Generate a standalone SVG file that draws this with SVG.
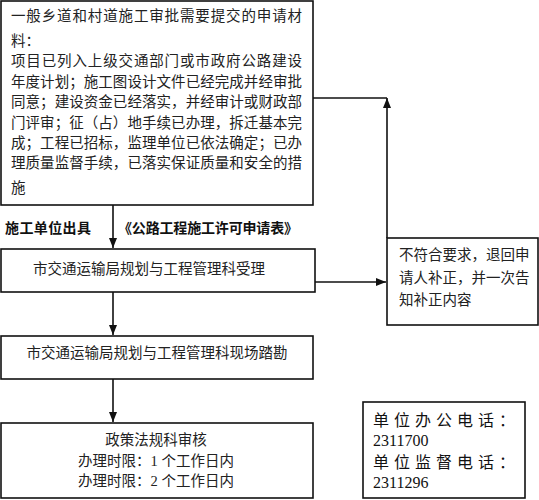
<svg xmlns="http://www.w3.org/2000/svg" width="539" height="500" viewBox="0 0 539 500">
<style>
.box{fill:#fff;stroke:#111;stroke-width:1.6}
.t{font-family:"Liberation Serif","Noto Sans CJK SC",serif;font-size:14.5px;fill:#222;dominant-baseline:central}
.m{text-anchor:middle}
.b{font-family:"Noto Sans CJK SC","Liberation Sans",sans-serif;font-size:14px;font-weight:bold;fill:#111;dominant-baseline:central}
.c{fill:none;stroke:#111;stroke-width:1.6}
.p{font-family:"Liberation Serif","Noto Sans CJK SC",serif;font-size:16px;fill:#111;dominant-baseline:central}
</style>
<defs>
<marker id="ah" markerWidth="10" markerHeight="8" refX="10" refY="4" orient="auto" markerUnits="userSpaceOnUse">
<path d="M0,0 L10,4 L0,8 Z" fill="#111"/>
</marker>
</defs>
<rect width="539" height="500" fill="#fff"/>
<g id="connectors">
<path class="c" d="M113,205 V248" marker-end="url(#ah)"/>
<path class="c" d="M312,282 H386" marker-end="url(#ah)"/>
<path class="c" d="M313,98 H387"/>
<path class="c" d="M387,238 V98" marker-end="url(#ah)"/>
<path class="c" d="M113,292 V335" marker-end="url(#ah)"/>
<path class="c" d="M113,379 V422" marker-end="url(#ah)"/>
</g>
<g id="n-materials">
<rect class="box" x="1" y="1" width="312" height="204"/>
<text class="t" x="11" y="16" textLength="291" lengthAdjust="spacing">一般乡道和村道施工审批需要提交的申请材</text>
<text class="t" x="11" y="41">料：</text>
<text class="t" x="11" y="61" textLength="291" lengthAdjust="spacing">项目已列入上级交通部门或市政府公路建设</text>
<text class="t" x="11" y="82" textLength="291" lengthAdjust="spacing">年度计划；施工图设计文件已经完成并经审批</text>
<text class="t" x="11" y="102" textLength="291" lengthAdjust="spacing">同意；建设资金已经落实，并经审计或财政部</text>
<text class="t" x="11" y="123" textLength="291" lengthAdjust="spacing">门评审；征（占）地手续已办理，拆迁基本完</text>
<text class="t" x="11" y="143" textLength="291" lengthAdjust="spacing">成；工程已招标，监理单位已依法确定；已办</text>
<text class="t" x="11" y="163" textLength="291" lengthAdjust="spacing">理质量监督手续，已落实保证质量和安全的措</text>
<text class="t" x="11" y="188">施</text>
</g>
<g id="label-issuer">
<text class="b" x="5" y="227" textLength="86" lengthAdjust="spacing">施工单位出具</text>
<text class="b" x="118" y="227" textLength="180" lengthAdjust="spacing">《公路工程施工许可申请表》</text>
</g>
<g id="n-accept">
<rect class="box" x="1" y="249" width="314" height="43"/>
<text class="t m" x="149" y="269">市交通运输局规划与工程管理科受理</text>
</g>
<g id="n-reject">
<rect class="box" x="387" y="238" width="151" height="87"/>
<text class="t" x="399" y="255" font-size="14">不符合要求，退回申</text>
<text class="t" x="399" y="278" font-size="14">请人补正，并一次告</text>
<text class="t" x="399" y="300" font-size="14">知补正内容</text>
</g>
<g id="n-survey">
<rect class="box" x="1" y="336" width="312" height="43"/>
<text class="t m" x="157" y="353">市交通运输局规划与工程管理科现场踏勘</text>
</g>
<g id="n-review">
<rect class="box" x="1" y="423" width="312" height="75"/>
<text class="t m" x="156" y="440">政策法规科审核</text>
<text class="t m" x="156" y="461">办理时限：1 个工作日内</text>
<text class="t m" x="156" y="481">办理时限：2 个工作日内</text>
</g>
<g id="n-phone">
<rect class="box" x="363" y="402" width="162" height="96"/>
<text class="p" x="373" y="420" letter-spacing="5">单位办公电话：</text>
<text class="p" x="373" y="440">2311700</text>
<text class="p" x="373" y="462" letter-spacing="5">单位监督电话：</text>
<text class="p" x="373" y="482">2311296</text>
</g>
</svg>
